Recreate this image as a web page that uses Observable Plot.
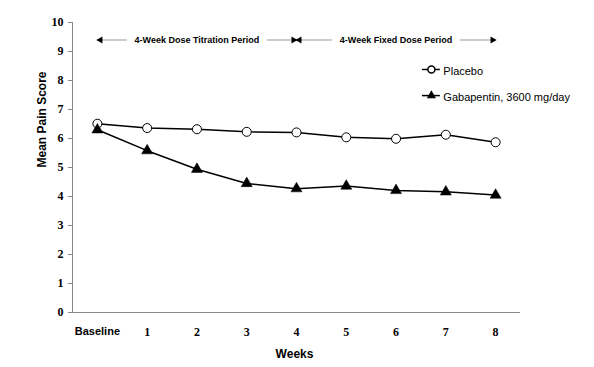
<!DOCTYPE html>
<html>
<head>
<meta charset="utf-8">
<script src="https://cdn.jsdelivr.net/npm/d3@7"></script>
<script src="https://cdn.jsdelivr.net/npm/@observablehq/plot@0.6"></script>
<style>
  html, body { margin: 0; padding: 0; background: white; }
</style>
</head>
<body>
<div id="chart"></div>
<script>
const weeks = ["Baseline", "1", "2", "3", "4", "5", "6", "7", "8"];
const placebo = [6.51, 6.36, 6.32, 6.23, 6.21, 6.04, 5.99, 6.13, 5.87];
const gabapentin = [6.30, 5.58, 4.94, 4.45, 4.27, 4.36, 4.21, 4.16, 4.05];
const yTicks = [0, 1, 2, 3, 4, 5, 6, 7, 8, 9, 10];
const seriesNames = ["Placebo", "Gabapentin, 3600 mg/day"];
const periodLabels = ["4-Week Dose Titration Period", "4-Week Fixed Dose Period"];
const periodStart = [0, 4];
const periodEnd = [4, 8];

const rows = weeks.map((w, i) => ({i, w, placebo: placebo[i], gaba: gabapentin[i]}));
const periods = periodLabels.map((label, k) => ({label, start: periodStart[k], end: periodEnd[k]}));

const periodY = 9.4;
const legend = [
  {name: seriesNames[0], y: 8.38, symbol: "circle"},
  {name: seriesNames[1], y: 7.48, symbol: "triangle"}
];
const legX1 = 6.53, legX2 = 6.89, legXM = 6.71, legXT = 6.95;

const sans = "'Liberation Sans', Arial, sans-serif";
const serif = "'Liberation Serif', 'Times New Roman', serif";

const chart = Plot.plot({
  width: 594,
  height: 367,
  marginLeft: 72,
  marginRight: 74,
  marginTop: 22,
  marginBottom: 55,
  x: {type: "linear", domain: [-0.5, 8.5], axis: null},
  y: {domain: [0, 10], axis: null},
  style: {background: "white", fontFamily: sans, color: "black"},
  marks: [
    Plot.ruleX([-0.5], {stroke: "#888", strokeWidth: 1}),
    Plot.ruleY([0], {stroke: "#888", strokeWidth: 1}),
    Plot.axisY({ticks: yTicks, tickSize: 4, tickPadding: 5, tickFormat: d => d, label: null,
      stroke: "#888", fontFamily: serif, fontWeight: "bold", fontSize: 12}),
    Plot.axisX({ticks: [0], tickFormat: i => weeks[i], tickSize: 0, tickPadding: 15, label: null,
      fontFamily: sans, fontWeight: "bold", fontSize: 11}),
    Plot.axisX({ticks: [1, 2, 3, 4, 5, 6, 7, 8], tickFormat: i => weeks[i], tickSize: 0, tickPadding: 15, label: null,
      fontFamily: serif, fontWeight: "bold", fontSize: 12}),
    Plot.text(["Mean Pain Score"], {frameAnchor: "left", rotate: -90, dx: -30,
      fontWeight: "bold", fontSize: 12}),
    Plot.text(["Weeks"], {frameAnchor: "bottom", dy: 45, dx: -2, fontWeight: "bold", fontSize: 12}),
    // period annotations
    Plot.ruleY(periods, {x1: "start", x2: "end", y: periodY, stroke: "#bbb", strokeWidth: 1.5}),
    Plot.text(periods, {x: d => (d.start + d.end) / 2, y: periodY, text: "label",
      stroke: "white", strokeWidth: 16, fill: "black", fontWeight: "bold", fontSize: 9}),
    Plot.dot(periods, {x: "start", y: periodY, symbol: "triangle", rotate: -90, r: 2.6, fill: "black", stroke: null, dx: 3}),
    Plot.dot(periods, {x: "end", y: periodY, symbol: "triangle", rotate: 90, r: 2.6, fill: "black", stroke: null, dx: -3}),
    // series
    Plot.line(rows, {x: "i", y: "placebo", stroke: "black", strokeWidth: 1.5}),
    Plot.line(rows, {x: "i", y: "gaba", stroke: "black", strokeWidth: 1.5}),
    Plot.dot(rows, {x: "i", y: "placebo", symbol: "circle", r: 4.5, fill: "white", stroke: "black", strokeWidth: 1}),
    Plot.dot(rows, {x: "i", y: "gaba", symbol: "triangle", r: 4.1, fill: "black", stroke: "black", strokeWidth: 0.5}),
    // legend
    Plot.ruleY(legend, {x1: legX1, x2: legX2, y: "y", stroke: "black", strokeWidth: 1.5}),
    Plot.dot(legend.slice(0, 1), {x: legXM, y: "y", symbol: "circle", r: 3.5, fill: "white", stroke: "black"}),
    Plot.dot(legend.slice(1), {x: legXM, y: "y", symbol: "triangle", r: 3.4, fill: "black", stroke: null}),
    Plot.text(legend, {x: legXT, y: "y", text: "name", textAnchor: "start", dy: 2, fontSize: 11})
  ]
});
document.getElementById("chart").append(chart);
</script>
</body>
</html>
